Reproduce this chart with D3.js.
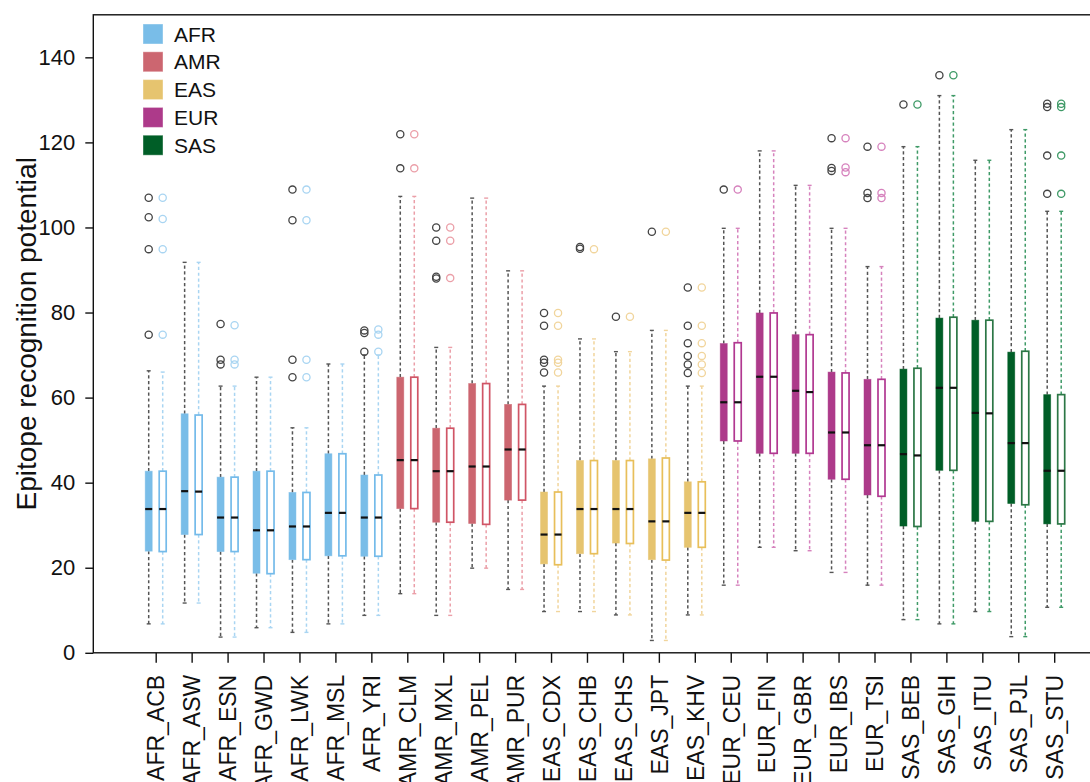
<!DOCTYPE html>
<html>
<head>
<meta charset="utf-8">
<script src="https://cdn.jsdelivr.net/npm/d3@7"></script>
<style>
  html, body { margin: 0; padding: 0; background: #fff; }
  svg { display: block; }
  text { font-family: "Liberation Sans", Arial, Helvetica, sans-serif; fill: #111; }
</style>
</head>
<body>
<svg id="chart" width="1090" height="782"></svg>
<script>
// ---------------- data ----------------
const populations = ["AFR_ACB","AFR_ASW","AFR_ESN","AFR_GWD","AFR_LWK","AFR_MSL","AFR_YRI",
  "AMR_CLM","AMR_MXL","AMR_PEL","AMR_PUR",
  "EAS_CDX","EAS_CHB","EAS_CHS","EAS_JPT","EAS_KHV",
  "EUR_CEU","EUR_FIN","EUR_GBR","EUR_IBS","EUR_TSI",
  "SAS_BEB","SAS_GIH","SAS_ITU","SAS_PJL","SAS_STU"];
const superPops = ["AFR","AMR","EAS","EUR","SAS"];
const yTicks = [0, 20, 40, 60, 80, 100, 120, 140];

// [lower whisker, Q1, median, Q3, upper whisker]
const filledStats = [
  [6.8,23.9,33.8,42.7,66.3],[11.7,27.8,38.0,56.2,91.8],[3.7,23.8,31.8,41.3,62.7],[5.9,18.7,28.8,42.7,64.8],
  [4.8,21.9,29.7,37.7,52.9],[6.8,22.8,32.9,46.8,67.9],[8.8,22.7,31.8,41.8,70.0],
  [13.9,33.9,45.3,64.8,107.3],[8.8,30.7,42.7,52.8,71.8],[19.9,30.4,43.8,63.3,106.9],[14.9,35.9,47.8,58.4,89.8],
  [9.7,20.9,27.8,37.8,62.7],[9.7,23.3,33.8,45.2,73.8],[8.9,25.8,33.8,45.2,70.8],[2.9,21.9,30.9,45.6,75.8],[8.9,24.8,32.9,40.2,62.7],
  [15.9,49.8,58.9,72.7,99.8],[24.8,46.9,64.9,79.9,118.0],[24.0,46.9,61.6,74.8,109.9],[18.9,40.8,51.8,66.0,99.8],[15.9,37.1,48.8,64.3,90.8],
  [7.8,29.8,46.7,66.7,119.0],[6.8,42.9,62.3,78.7,131.0],[9.7,30.9,56.4,78.2,115.8],[3.8,35.1,49.3,70.7,123.0],[10.7,30.3,42.8,60.7,103.8]
];
const filledOutliers = [
  [107.0,102.4,94.9,74.8],[],[77.3,68.9,67.8],[],[108.9,101.7,68.9,64.8],[],[75.8,75.2,70.8],
  [121.9,113.9],[100.0,96.9,88.4,88.0],[],[],
  [79.9,76.9,68.9,68.2,65.9],[95.4,95.0],[79.0],[99.0],[85.9,76.9,72.8,69.8,67.8,65.8],
  [108.9],[],[],[121.0,114.0,113.3],[119.0,108.1,106.9],
  [128.9],[135.8],[],[],[129.1,128.3,116.9,107.9]
];
const hollowStats = [
  [6.8,23.8,33.8,42.7,66.0],[11.7,27.8,37.9,55.9,91.8],[3.7,23.8,31.8,41.3,62.7],[5.9,18.6,28.8,42.7,64.8],
  [4.8,21.9,29.7,37.7,52.9],[6.8,22.8,32.9,46.8,67.9],[8.8,22.7,31.8,41.8,70.0],
  [13.9,33.9,45.3,64.8,107.3],[8.8,30.7,42.7,52.8,71.8],[19.9,30.2,43.8,63.3,106.9],[14.9,35.9,47.8,58.4,89.8],
  [9.7,20.7,27.8,37.8,62.7],[9.7,23.3,33.8,45.2,73.8],[8.9,25.7,33.8,45.2,70.8],[2.9,21.8,30.9,45.8,75.8],[8.9,24.8,32.9,40.2,62.7],
  [15.9,49.8,58.9,72.9,99.8],[24.8,46.9,64.9,79.9,118.0],[24.0,46.9,61.3,74.8,109.9],[18.9,40.8,51.8,65.8,99.8],[15.9,36.8,48.8,64.3,90.8],
  [7.8,29.7,46.4,66.9,119.0],[6.8,42.9,62.3,78.9,131.0],[9.7,30.9,56.3,78.2,115.8],[3.8,34.8,49.3,70.9,123.0],[10.7,30.3,42.8,60.7,103.8]
];
const hollowOutliers = [
  [107.0,102.0,94.9,74.8],[],[77.0,68.9,67.8],[],[108.9,101.7,68.9,64.8],[],[76.0,74.8,70.8],
  [121.9,113.9],[100.0,96.9,88.1],[],[],
  [79.9,76.9,68.9,68.2,65.9],[94.9],[79.0],[99.0],[85.9,76.9,72.8,69.8,67.8,65.8],
  [108.9],[],[],[121.0,114.1,113.0],[119.0,108.1,106.9],
  [128.9],[135.8],[],[],[129.1,128.3,116.9,107.9]
];

// ---------------- styles ----------------
const fillColor   = {AFR:"#79bde8", AMR:"#cc6670", EAS:"#e6c46f", EUR:"#ad3a8a", SAS:"#005e27"};
const strokeColor = {AFR:"#74bbea", AMR:"#d05566", EAS:"#e8bf5a", EUR:"#b13891", SAS:"#2c7746"};
const lightColor  = {AFR:"#a9d5f2", AMR:"#eb9fa8", EAS:"#f1d59c", EUR:"#d682bd", SAS:"#3f9a67"};

const svg = d3.select("#chart");
const plotLeft = 93.3, plotTop = 14.8, plotBottom = 652.8, plotRight = 1110;

const x = d3.scaleLinear().domain([0, populations.length - 1]).range([155.7, 1054.2]);
const y = d3.scaleLinear().domain([0, 150]).range([plotBottom, plotTop]);
const off = 7, boxW = 7;

// frame
svg.append("rect")
  .attr("x", plotLeft).attr("y", plotTop)
  .attr("width", plotRight - plotLeft).attr("height", plotBottom - plotTop)
  .attr("fill", "none").attr("stroke", "#111").attr("stroke-width", 1.4);

// y axis
const yAxis = svg.append("g").attr("transform", `translate(${plotLeft},0)`)
  .call(d3.axisLeft(y).tickValues(yTicks).tickSize(8).tickPadding(10).tickFormat(d3.format("d")));
yAxis.select(".domain").remove();
yAxis.selectAll(".tick line").attr("stroke", "#111").attr("stroke-width", 1.4);
yAxis.selectAll(".tick text").style("font-size", "22px").attr("fill", "#111")
  .style("font-family", "'Liberation Sans', Arial, sans-serif");

// x axis
const xAxis = svg.append("g").attr("transform", `translate(0,${plotBottom})`)
  .call(d3.axisBottom(x).tickValues(d3.range(populations.length)).tickSize(10).tickFormat(i => populations[i]));
xAxis.select(".domain").remove();
xAxis.selectAll(".tick line").attr("stroke", "#111").attr("stroke-width", 1.4);
xAxis.selectAll(".tick text")
  .style("font-size", "23px").attr("fill", "#111")
  .style("font-family", "'Liberation Sans', Arial, sans-serif")
  .attr("text-anchor", "end")
  .attr("transform", "translate(0,22) rotate(-90)")
  .attr("x", 0).attr("y", 0).attr("dy", "0.36em");

// y title
svg.append("text")
  .attr("transform", `translate(36,${(plotTop + plotBottom) / 2}) rotate(-90)`)
  .attr("text-anchor", "middle")
  .style("font-size", "28px")
  .text("Epitope recognition potential");

// boxes
function drawSeries(stats, outliers, hollow) {
  const g = svg.append("g");
  populations.forEach((p, i) => {
    const sp = p.split("_")[0];
    const cx = x(i) + (hollow ? off : -off);
    const [lo, q1, med, q3, hi] = stats[i];
    const wColor = hollow ? lightColor[sp] : "#555";
    [[q3, hi], [q1, lo]].forEach(([a, b]) => {
      g.append("line").attr("x1", cx).attr("x2", cx).attr("y1", y(a)).attr("y2", y(b))
        .attr("stroke", wColor).attr("stroke-width", 1.5).attr("stroke-dasharray", "3.2,2.6");
      g.append("line").attr("x1", cx - 2).attr("x2", cx + 2).attr("y1", y(b)).attr("y2", y(b))
        .attr("stroke", wColor).attr("stroke-width", 1.4);
    });
    if (hollow) {
      g.append("rect").attr("x", cx - boxW / 2).attr("y", y(q3))
        .attr("width", boxW).attr("height", y(q1) - y(q3))
        .attr("fill", "#fff").attr("stroke", strokeColor[sp]).attr("stroke-width", 1.7);
    } else {
      g.append("rect").attr("x", cx - boxW / 2).attr("y", y(q3))
        .attr("width", boxW).attr("height", y(q1) - y(q3))
        .attr("fill", fillColor[sp]).attr("stroke", fillColor[sp]).attr("stroke-opacity", 0.6).attr("stroke-width", 0.8);
    }
    g.append("line").attr("x1", cx - boxW / 2).attr("x2", cx + boxW / 2)
      .attr("y1", y(med)).attr("y2", y(med))
      .attr("stroke", "#111").attr("stroke-width", 2.2);
    outliers[i].forEach(v => {
      g.append("circle").attr("cx", cx).attr("cy", y(v)).attr("r", 3.6)
        .attr("fill", "none").attr("stroke", hollow ? lightColor[sp] : "#444").attr("stroke-width", 1.3);
    });
  });
}
drawSeries(filledStats, filledOutliers, false);
drawSeries(hollowStats, hollowOutliers, true);

// legend
const lg = svg.append("g");
superPops.forEach((sp, i) => {
  const yy = 24 + i * 27.8;
  lg.append("rect").attr("x", 143).attr("y", yy).attr("width", 20).attr("height", 20)
    .attr("fill", fillColor[sp]).attr("stroke", "#fff").attr("stroke-opacity", 0.4).attr("stroke-width", 1);
  lg.append("text").attr("x", 174).attr("y", yy + 10).attr("dy", "0.36em")
    .style("font-size", "21px").text(sp);
});
</script>
</body>
</html>
